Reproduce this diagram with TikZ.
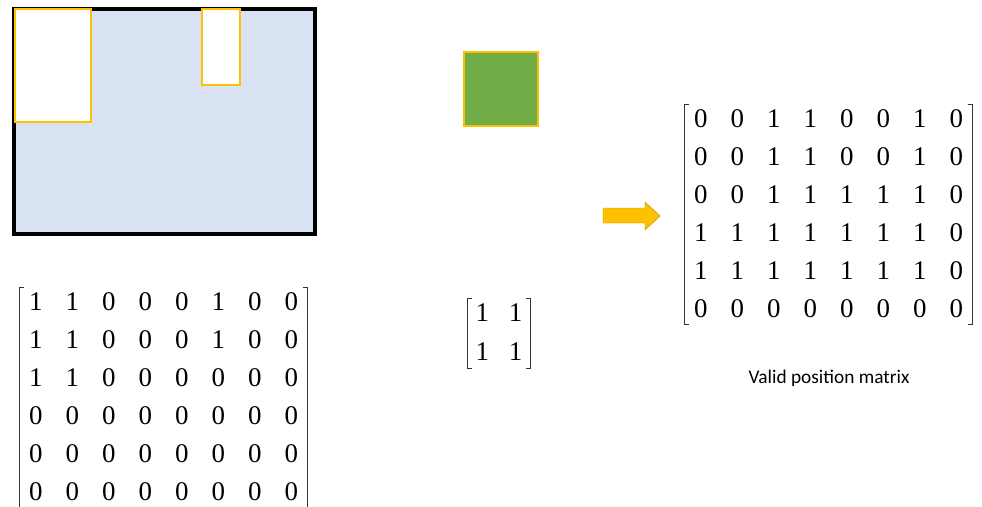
\documentclass[tikz,border=0pt]{standalone}
\usepackage{fontspec}
\setmainfont{Liberation Serif}
\newfontfamily\capfont{Carlito}
\usetikzlibrary{matrix,calc}
\definecolor{sheetblue}{HTML}{DAE3F3}
\definecolor{usedgold}{HTML}{FFC000}
\definecolor{partgreen}{HTML}{70AD47}
\definecolor{arrowedge}{HTML}{BC8C00}
\tikzset{
  sheet/.style={draw=black, line width=3pt, fill=sheetblue},
  used/.style={draw=usedgold, line width=1.8pt, fill=white},
  part/.style={draw=usedgold, line width=1.8pt, fill=partgreen, inner sep=0pt, minimum size=22.2mm},
  cell/.style={minimum width=10.95mm, minimum height=11.4mm, inner sep=0pt, font=\fontsize{23}{23}\selectfont},
  mat/.style={matrix of nodes, inner sep=0pt, nodes={cell}},
  brk/.style={draw=black!80, line width=0.8pt},
}
% square brackets round a matrix node
\newcommand{\brackets}[1]{%
  \draw[brk] ($(#1.north west)+(7,5)$) -- ($(#1.north west)+(2,5)$) -- ($(#1.south west)+(2,-3)$) -- ($(#1.south west)+(7,-3)$);
  \draw[brk] ($(#1.north east)+(-7,5)$) -- ($(#1.north east)+(-2,5)$) -- ($(#1.south east)+(-2,-3)$) -- ($(#1.south east)+(-7,-3)$);}

\begin{document}
\begin{tikzpicture}[x=0.3mm, y=-0.3mm]
  \clip (0,0) rectangle (982,506);
  % sheet with the pieces already placed
  \draw[sheet] (14,9) rectangle (315,234);
  \draw[used] (15,9) rectangle (91,122);
  \draw[used] (202,9) rectangle (240,85);
  % next piece
  \node[part] (pc) at (501,89) {};
  \fill[usedgold, draw=arrowedge, line width=0.4pt] (603,208) -- (645,208) -- (645,202) -- (660,216) -- (645,230) -- (645,223) -- (603,223) -- cycle;

  \matrix (occ) [mat] at (163.5,396.5) {
    1 & 1 & 0 & 0 & 0 & 1 & 0 & 0 \\
    1 & 1 & 0 & 0 & 0 & 1 & 0 & 0 \\
    1 & 1 & 0 & 0 & 0 & 0 & 0 & 0 \\
    0 & 0 & 0 & 0 & 0 & 0 & 0 & 0 \\
    0 & 0 & 0 & 0 & 0 & 0 & 0 & 0 \\
    0 & 0 & 0 & 0 & 0 & 0 & 0 & 0 \\
  };
  \matrix (pcm) [mat, nodes={minimum width=10mm, minimum height=11.7mm}] at (499,332.5) {
    1 & 1 \\
    1 & 1 \\
  };
  \matrix (vpm) [mat] at (828.5,213.5) {
    0 & 0 & 1 & 1 & 0 & 0 & 1 & 0 \\
    0 & 0 & 1 & 1 & 0 & 0 & 1 & 0 \\
    0 & 0 & 1 & 1 & 1 & 1 & 1 & 0 \\
    1 & 1 & 1 & 1 & 1 & 1 & 1 & 0 \\
    1 & 1 & 1 & 1 & 1 & 1 & 1 & 0 \\
    0 & 0 & 0 & 0 & 0 & 0 & 0 & 0 \\
  };
  \brackets{occ}
  \brackets{pcm}
  \brackets{vpm}
  \node[font=\capfont\fontsize{16.5}{16.5}\selectfont] (cap) at (829,378) {Valid position matrix};
\end{tikzpicture}
\end{document}
